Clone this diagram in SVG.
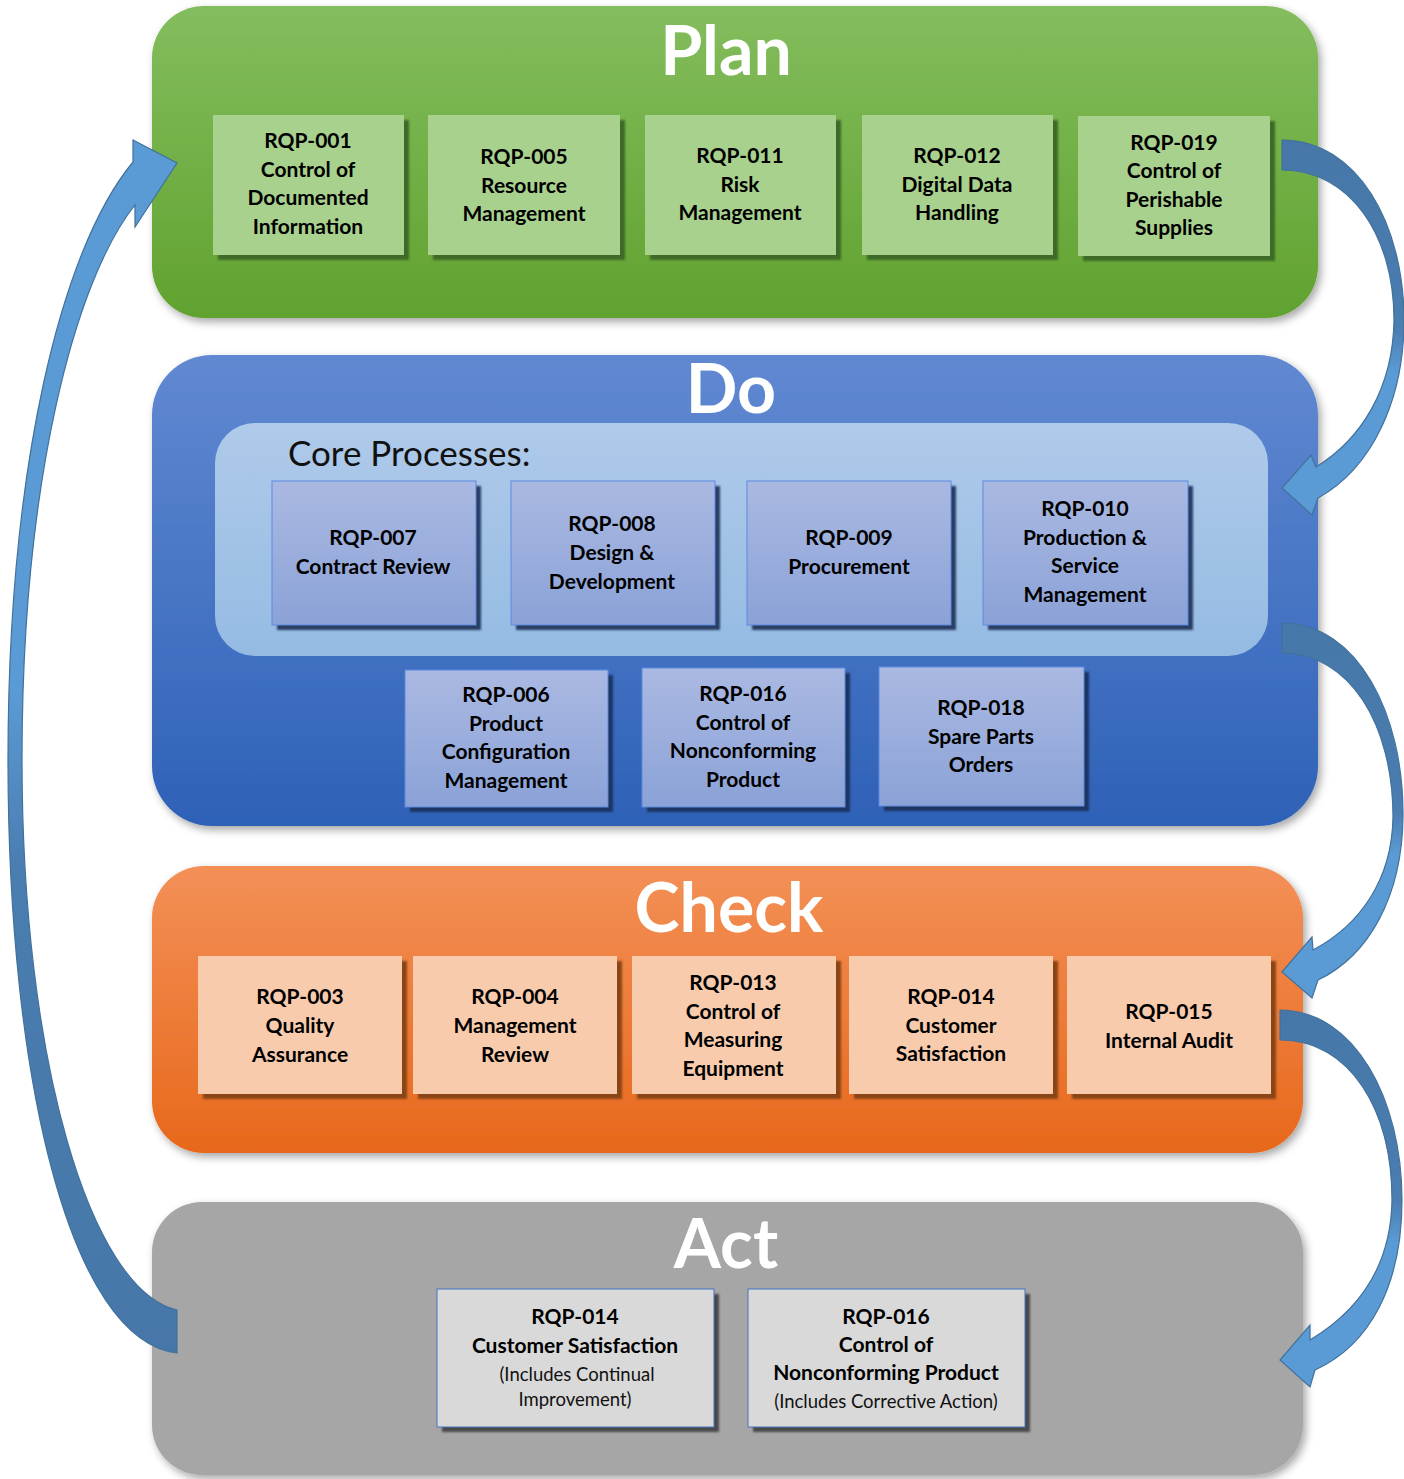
<svg xmlns="http://www.w3.org/2000/svg" width="1404" height="1479" viewBox="0 0 1404 1479">
<defs>
<style>
.t{font-family:Lato,"Open Sans","Liberation Sans",sans-serif;font-weight:bold;font-size:21px;fill:#000;text-anchor:middle}
.s{font-family:Lato,"Open Sans","Liberation Sans",sans-serif;font-weight:normal;font-size:18.5px;fill:#111;text-anchor:middle}
.h{font-family:Lato,"Open Sans","Liberation Sans",sans-serif;font-weight:bold;font-size:68px;fill:#fff;text-anchor:middle}
.arr{stroke:#41719c;stroke-width:1.2}
</style>
<linearGradient id="gPlan" x1="0" y1="0" x2="0" y2="1"><stop offset="0" stop-color="#84bd5e"/><stop offset="1" stop-color="#60a22f"/></linearGradient>
<linearGradient id="gDo" x1="0" y1="0" x2="0" y2="1"><stop offset="0" stop-color="#6189d2"/><stop offset="1" stop-color="#2e61b7"/></linearGradient>
<linearGradient id="gCore" x1="0" y1="0" x2="0" y2="1"><stop offset="0" stop-color="#afcaea"/><stop offset="1" stop-color="#95bbe3"/></linearGradient>
<linearGradient id="gCheck" x1="0" y1="0" x2="0" y2="1"><stop offset="0" stop-color="#f39057"/><stop offset="1" stop-color="#e7681b"/></linearGradient>
<linearGradient id="gDoBox" x1="0" y1="0" x2="0" y2="1"><stop offset="0" stop-color="#aab9e2"/><stop offset="1" stop-color="#8ba2d7"/></linearGradient>
<linearGradient id="gArrR" x1="0" y1="0" x2="0" y2="1"><stop offset="0" stop-color="#4677a8"/><stop offset="0.5" stop-color="#4a7db0"/><stop offset="0.62" stop-color="#5b9bd5"/><stop offset="1" stop-color="#5b9bd5"/></linearGradient>
<linearGradient id="gArrL" x1="0" y1="0" x2="0" y2="1"><stop offset="0" stop-color="#5b9bd5"/><stop offset="0.45" stop-color="#5b9bd5"/><stop offset="0.6" stop-color="#4a7db0"/><stop offset="1" stop-color="#4677a8"/></linearGradient>
<filter id="panelSh" x="-5%" y="-5%" width="110%" height="115%"><feDropShadow dx="3" dy="4" stdDeviation="4" flood-color="#000" flood-opacity="0.35"/></filter>
<filter id="boxSh" x="-5%" y="-5%" width="115%" height="115%"><feGaussianBlur stdDeviation="0.8"/></filter>
</defs>

<!-- Panels -->
<g id="plan">
<rect x="152" y="6" width="1166" height="312" rx="52" fill="url(#gPlan)" filter="url(#panelSh)"/>
<text class="h" x="726" y="75">Plan</text>
</g>
<g id="do">
<rect x="152" y="355" width="1166" height="471" rx="60" fill="url(#gDo)" filter="url(#panelSh)"/>
<text class="h" x="731" y="413">Do</text>
<rect x="215" y="423" width="1053" height="233" rx="40" fill="url(#gCore)"/>
<text x="288" y="466" style="font-family:Lato,'Open Sans','Liberation Sans',sans-serif;font-size:35px;fill:#111">Core Processes:</text>
</g>
<g id="check">
<rect x="152" y="866" width="1151" height="287" rx="52" fill="url(#gCheck)" filter="url(#panelSh)"/>
<text class="h" x="729" y="932">Check</text>
</g>
<g id="act">
<rect x="152" y="1202" width="1151" height="273" rx="50" fill="#a6a6a6" filter="url(#panelSh)"/>
<text class="h" x="726" y="1268">Act</text>
</g>

<!-- Plan boxes -->
<g id="rqp001">
<rect x="218" y="120" width="191" height="140" fill="#3d6b25" filter="url(#boxSh)"/>
<rect x="213" y="115" width="191" height="140" fill="#a9d18e"/>
<text class="t" x="308"><tspan x="308" y="148">RQP-001</tspan><tspan x="308" y="177">Control of</tspan><tspan x="308" y="205">Documented</tspan><tspan x="308" y="234">Information</tspan></text>
</g>
<g id="rqp005">
<rect x="433" y="120" width="192" height="140" fill="#3d6b25" filter="url(#boxSh)"/>
<rect x="428" y="115" width="192" height="140" fill="#a9d18e"/>
<text class="t"><tspan x="524" y="164">RQP-005</tspan><tspan x="524" y="193">Resource</tspan><tspan x="524" y="221">Management</tspan></text>
</g>
<g id="rqp011">
<rect x="650" y="120" width="191" height="140" fill="#3d6b25" filter="url(#boxSh)"/>
<rect x="645" y="115" width="191" height="140" fill="#a9d18e"/>
<text class="t"><tspan x="740" y="163">RQP-011</tspan><tspan x="740" y="192">Risk</tspan><tspan x="740" y="220">Management</tspan></text>
</g>
<g id="rqp012">
<rect x="867" y="120" width="191" height="140" fill="#3d6b25" filter="url(#boxSh)"/>
<rect x="862" y="115" width="191" height="140" fill="#a9d18e"/>
<text class="t"><tspan x="957" y="163">RQP-012</tspan><tspan x="957" y="192">Digital Data</tspan><tspan x="957" y="220">Handling</tspan></text>
</g>
<g id="rqp019">
<rect x="1083" y="121" width="192" height="140" fill="#3d6b25" filter="url(#boxSh)"/>
<rect x="1078" y="116" width="192" height="140" fill="#a9d18e"/>
<text class="t"><tspan x="1174" y="150">RQP-019</tspan><tspan x="1174" y="178">Control of</tspan><tspan x="1174" y="207">Perishable</tspan><tspan x="1174" y="235">Supplies</tspan></text>
</g>

<!-- Do core boxes -->
<g id="rqp007">
<rect x="277" y="486" width="204" height="144" fill="#2b3e63" filter="url(#boxSh)"/>
<rect x="272" y="481" width="204" height="144" fill="url(#gDoBox)" stroke="#5b8ae0" stroke-width="1"/>
<text class="t"><tspan x="373" y="545">RQP-007</tspan><tspan x="373" y="574">Contract Review</tspan></text>
</g>
<g id="rqp008">
<rect x="516" y="486" width="204" height="144" fill="#2b3e63" filter="url(#boxSh)"/>
<rect x="511" y="481" width="204" height="144" fill="url(#gDoBox)" stroke="#5b8ae0" stroke-width="1"/>
<text class="t"><tspan x="612" y="531">RQP-008</tspan><tspan x="612" y="560">Design &amp;</tspan><tspan x="612" y="589">Development</tspan></text>
</g>
<g id="rqp009">
<rect x="752" y="486" width="204" height="144" fill="#2b3e63" filter="url(#boxSh)"/>
<rect x="747" y="481" width="204" height="144" fill="url(#gDoBox)" stroke="#5b8ae0" stroke-width="1"/>
<text class="t"><tspan x="849" y="545">RQP-009</tspan><tspan x="849" y="574">Procurement</tspan></text>
</g>
<g id="rqp010">
<rect x="988" y="486" width="205" height="144" fill="#2b3e63" filter="url(#boxSh)"/>
<rect x="983" y="481" width="205" height="144" fill="url(#gDoBox)" stroke="#5b8ae0" stroke-width="1"/>
<text class="t"><tspan x="1085" y="516">RQP-010</tspan><tspan x="1085" y="545">Production &amp;</tspan><tspan x="1085" y="573">Service</tspan><tspan x="1085" y="602">Management</tspan></text>
</g>

<!-- Do other boxes -->
<g id="rqp006">
<rect x="410" y="675" width="203" height="137" fill="#1f3564" filter="url(#boxSh)"/>
<rect x="405" y="670" width="203" height="137" fill="url(#gDoBox)" stroke="#5b8ae0" stroke-width="1"/>
<text class="t"><tspan x="506" y="702">RQP-006</tspan><tspan x="506" y="731">Product</tspan><tspan x="506" y="759">Configuration</tspan><tspan x="506" y="788">Management</tspan></text>
</g>
<g id="rqp016do">
<rect x="647" y="673" width="203" height="139" fill="#1f3564" filter="url(#boxSh)"/>
<rect x="642" y="668" width="203" height="139" fill="url(#gDoBox)" stroke="#5b8ae0" stroke-width="1"/>
<text class="t"><tspan x="743" y="701">RQP-016</tspan><tspan x="743" y="730">Control of</tspan><tspan x="743" y="758">Nonconforming</tspan><tspan x="743" y="787">Product</tspan></text>
</g>
<g id="rqp018">
<rect x="884" y="672" width="205" height="139" fill="#1f3564" filter="url(#boxSh)"/>
<rect x="879" y="667" width="205" height="139" fill="url(#gDoBox)" stroke="#5b8ae0" stroke-width="1"/>
<text class="t"><tspan x="981" y="715">RQP-018</tspan><tspan x="981" y="744">Spare Parts</tspan><tspan x="981" y="772">Orders</tspan></text>
</g>

<!-- Check boxes -->
<g id="rqp003">
<rect x="203" y="961" width="204" height="138" fill="#8a4413" filter="url(#boxSh)"/>
<rect x="198" y="956" width="204" height="138" fill="#f8cbad"/>
<text class="t"><tspan x="300" y="1004">RQP-003</tspan><tspan x="300" y="1033">Quality</tspan><tspan x="300" y="1062">Assurance</tspan></text>
</g>
<g id="rqp004">
<rect x="418" y="961" width="204" height="138" fill="#8a4413" filter="url(#boxSh)"/>
<rect x="413" y="956" width="204" height="138" fill="#f8cbad"/>
<text class="t"><tspan x="515" y="1004">RQP-004</tspan><tspan x="515" y="1033">Management</tspan><tspan x="515" y="1062">Review</tspan></text>
</g>
<g id="rqp013">
<rect x="637" y="961" width="204" height="138" fill="#8a4413" filter="url(#boxSh)"/>
<rect x="632" y="956" width="204" height="138" fill="#f8cbad"/>
<text class="t"><tspan x="733" y="990">RQP-013</tspan><tspan x="733" y="1019">Control of</tspan><tspan x="733" y="1047">Measuring</tspan><tspan x="733" y="1076">Equipment</tspan></text>
</g>
<g id="rqp014">
<rect x="854" y="961" width="204" height="138" fill="#8a4413" filter="url(#boxSh)"/>
<rect x="849" y="956" width="204" height="138" fill="#f8cbad"/>
<text class="t"><tspan x="951" y="1004">RQP-014</tspan><tspan x="951" y="1033">Customer</tspan><tspan x="951" y="1061">Satisfaction</tspan></text>
</g>
<g id="rqp015">
<rect x="1072" y="961" width="204" height="138" fill="#8a4413" filter="url(#boxSh)"/>
<rect x="1067" y="956" width="204" height="138" fill="#f8cbad"/>
<text class="t"><tspan x="1169" y="1019">RQP-015</tspan><tspan x="1169" y="1048">Internal Audit</tspan></text>
</g>

<!-- Act boxes -->
<g id="rqp014act">
<rect x="442" y="1294" width="277" height="138" fill="#4a4a4a" filter="url(#boxSh)"/>
<rect x="437" y="1289" width="277" height="138" fill="#d9d9d9" stroke="#4472c4" stroke-width="1"/>
<text class="t"><tspan x="575" y="1324">RQP-014</tspan><tspan x="575" y="1353">Customer Satisfaction</tspan></text>
<text class="s"><tspan x="577" y="1381">(Includes Continual</tspan><tspan x="575" y="1406">Improvement)</tspan></text>
</g>
<g id="rqp016act">
<rect x="753" y="1294" width="277" height="138" fill="#4a4a4a" filter="url(#boxSh)"/>
<rect x="748" y="1289" width="277" height="138" fill="#d9d9d9" stroke="#4472c4" stroke-width="1"/>
<text class="t"><tspan x="886" y="1324">RQP-016</tspan><tspan x="886" y="1352">Control of</tspan><tspan x="886" y="1380">Nonconforming Product</tspan></text>
<text class="s"><tspan x="886" y="1408">(Includes Corrective Action)</tspan></text>
</g>

<!-- Connectors -->
<g id="connectors">
<path class="arr" fill="url(#gArrR)" d="M1282,140 C1358,140 1404,225 1404,320 C1404,400 1372,468 1318,498 L1312,515 L1282,488 L1311,455 L1316,467 C1360,440 1393,390 1394,320 C1394,235 1350,170 1282,170 Z"/>
<path class="arr" fill="url(#gArrR)" d="M1282,623 C1358,623 1404,715 1403,817 C1402,895 1370,955 1318,980 L1312,998 L1282,972 L1312,937 L1313,950 C1360,925 1392,880 1393,817 C1393,725 1350,653 1282,653 Z"/>
<path class="arr" fill="url(#gArrR)" d="M1280,1010 C1355,1010 1402,1100 1402,1200 C1402,1285 1370,1345 1315,1370 L1310,1387 L1280,1360 L1310,1325 L1310,1340 C1360,1310 1391,1265 1392,1200 C1392,1110 1350,1040 1280,1040 Z"/>
<path class="arr" fill="url(#gArrL)" d="M177,1353 C70,1340 8,1080 8,760 C8,470 60,250 133,162 L133,140 L177,163 L135,227 L135,205 C75,280 22,480 22,760 C22,1060 90,1290 177,1310 Z"/>
</g>
</svg>
